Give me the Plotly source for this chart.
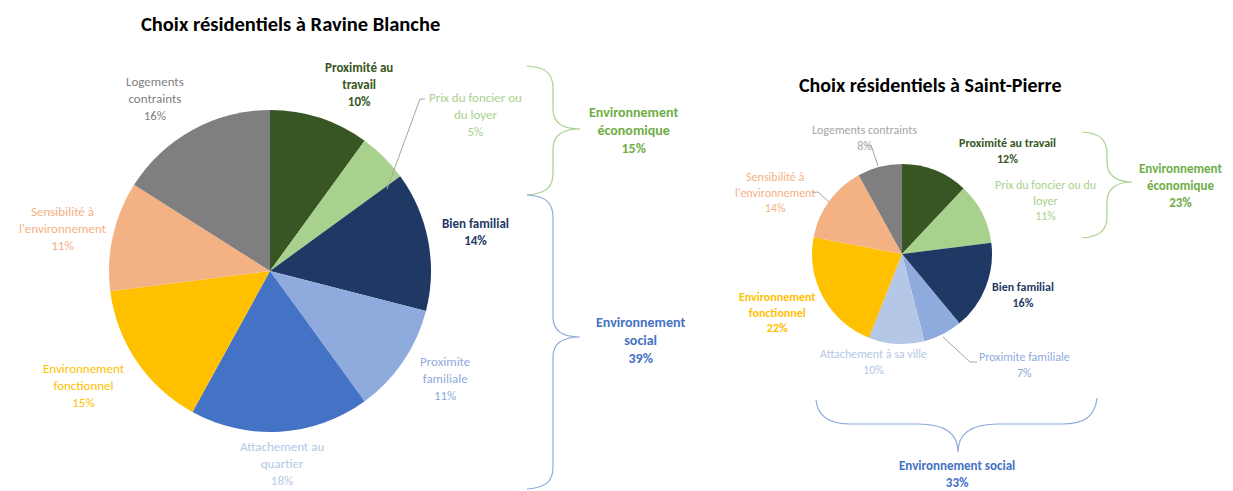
import plotly.graph_objects as go

W, H = 1233, 491
FONT = "Carlito, Lato, sans-serif"

# ---------------- data ----------------
rb_categories = ["Proximité au travail", "Prix du foncier ou du loyer", "Bien familial",
                 "Proximite familiale", "Attachement au quartier", "Environnement fonctionnel",
                 "Sensibilité à l'environnement", "Logements contraints"]
rb_values = [10, 5, 14, 11, 18, 15, 11, 16]

sp_categories = ["Proximité au travail", "Prix du foncier ou du loyer", "Bien familial",
                 "Proximite familiale", "Attachement à sa ville", "Environnement fonctionnel",
                 "Sensibilité à l'environnement", "Logements contraints"]
sp_values = [12, 11, 16, 7, 10, 22, 14, 8]

group_names = ["Environnement économique", "Environnement social"]
rb_group_values = [15, 39]
sp_group_values = [23, 33]

titles = ["Choix résidentiels à Ravine Blanche", "Choix résidentiels à Saint-Pierre"]

# ---------------- styles ----------------
rb_colors = ["#375623", "#A9D18E", "#1F3864", "#8FAADC", "#4472C4", "#FFC000", "#F4B183", "#7F7F7F"]
sp_colors = ["#375623", "#A9D18E", "#1F3864", "#8FAADC", "#B4C7E7", "#FFC000", "#F4B183", "#7F7F7F"]
rb_text_colors = ["#375623", "#A9D18E", "#1F3864", "#8FAADC", "#B4C7E7", "#FFC000", "#F4B183", "#7F7F7F"]
sp_text_colors = ["#375623", "#A9D18E", "#1F3864", "#8FAADC", "#B4C7E7", "#FFC000", "#F4B183", "#A6A6A6"]
rb_bold = [True, False, True, False, False, False, False, False]
sp_bold = [True, False, True, False, False, True, False, False]
group_colors = ["#70AD47", "#4472C4"]

# label wrapping + pixel positions (layout only)
rb_wrap = ["Proximité au<br>travail", "Prix du foncier ou<br>du loyer", "Bien familial",
           "Proximite<br>familiale", "Attachement au<br>quartier", "Environnement<br>fonctionnel",
           "Sensibilité à<br>l'environnement", "Logements<br>contraints"]
rb_pos = [(359, 85), (475, 114), (475, 232), (445, 378), (282, 463), (84, 385), (63, 229), (155, 99)]
sp_wrap = ["Proximité au travail", "Prix du foncier ou du<br>loyer", "Bien familial",
           "Proximite familiale", "Attachement à sa ville", "Environnement<br>fonctionnel",
           "Sensibilité à<br>l'environnement", "Logements contraints"]
sp_pos = [(1007, 151), (1045, 200), (1023, 295), (1024, 365), (874, 362), (777, 312), (775, 192), (864, 138)]


def px(x):
    return x / W


def py(y):
    return 1 - y / H


fig = go.Figure()

# pies (pixel boxes -> domains)
rb_box = (108, 110, 432, 432)   # left, top, right, bottom
sp_box = (812, 164, 992, 344)
for cats, vals, cols, box in [(rb_categories, rb_values, rb_colors, rb_box),
                              (sp_categories, sp_values, sp_colors, sp_box)]:
    fig.add_trace(go.Pie(
        labels=cats, values=vals, sort=False, direction="clockwise", rotation=0,
        marker=dict(colors=cols, line=dict(width=0)),
        textinfo="none", hovertemplate="%{label}: %{value}%<extra></extra>",
        domain=dict(x=[px(box[0]), px(box[2])], y=[py(box[3]), py(box[1])]),
        showlegend=False,
    ))

annotations = []


def add_text(text, x, y, color, size, bold):
    t = f"<b>{text}</b>" if bold else text
    annotations.append(dict(text=t, x=px(x), y=py(y), xref="paper", yref="paper",
                            xanchor="center", yanchor="middle", showarrow=False,
                            align="center", font=dict(family=FONT, size=size, color=color)))


# titles
add_text(titles[0], 290, 24, "#000000", 20.5, True)
add_text(titles[1], 930, 85, "#000000", 20, True)

for wrap, val, col, b, (x, y) in zip(rb_wrap, rb_values, rb_text_colors, rb_bold, rb_pos):
    add_text(f"{wrap}<br>{val}%", x, y, col, 13, b)
for wrap, val, col, b, (x, y) in zip(sp_wrap, sp_values, sp_text_colors, sp_bold, sp_pos):
    add_text(f"{wrap}<br>{val}%", x, y, col, 12, b)

# group labels
add_text(f"Environnement<br>économique<br>{rb_group_values[0]}%", 633, 130, group_colors[0], 14, True)
add_text(f"Environnement<br>social<br>{rb_group_values[1]}%", 640, 340, group_colors[1], 14, True)
add_text(f"Environnement<br>économique<br>{sp_group_values[0]}%", 1180, 185, group_colors[0], 13, True)
add_text(f"Environnement social<br>{sp_group_values[1]}%", 957, 474, group_colors[1], 13, True)

fig.update_layout(annotations=annotations)


def path(cmds):
    out = []
    for c in cmds:
        if isinstance(c, str):
            out.append(c)
        else:
            out.append(f"{px(c[0]):.5f},{py(c[1]):.5f}")
    return " ".join(out)


def vbrace(x0, y0, y1, xm, xt, yt):
    return path(["M", (x0, y0), "C", (xm - 5, y0 + 1), (xm, y0 + 10), (xm, y0 + 22),
                 "L", (xm, yt - 20), "C", (xm, yt - 8), (xm + 8, yt), (xt, yt),
                 "C", (xm + 8, yt), (xm, yt + 8), (xm, yt + 20),
                 "L", (xm, y1 - 22), "C", (xm, y1 - 10), (xm - 5, y1 - 1), (x0, y1)])


def hbrace(x0, x1, y0, ym, xt, yt):
    return path(["M", (x0, y0), "C", (x0 + 2, y0 + 16), (x0 + 12, ym), (x0 + 35, ym),
                 "L", (xt - 40, ym), "C", (xt - 15, ym), (xt, ym + 8), (xt, yt),
                 "C", (xt, ym + 8), (xt + 15, ym), (xt + 40, ym),
                 "L", (x1 - 35, ym), "C", (x1 - 12, ym), (x1 - 2, y0 + 16), (x1, y0 - 2)])


shapes = [
    dict(type="path", path=vbrace(527, 66, 195, 553, 580, 129), line=dict(color="#A9D18E", width=1.2)),
    dict(type="path", path=vbrace(527, 195, 489, 553, 580, 337), line=dict(color="#8FAADC", width=1.2)),
    dict(type="path", path=vbrace(1082, 132, 238, 1107, 1132, 182), line=dict(color="#A9D18E", width=1.2)),
    dict(type="path", path=hbrace(816, 1097, 400, 424, 958, 452), line=dict(color="#8FAADC", width=1.2)),
    # leader lines
    dict(type="path", path=path(["M", (425, 99), "L", (420, 99), "L", (387, 189)]), line=dict(color="#A6A6A6", width=1)),
    dict(type="path", path=path(["M", (866, 146), "L", (871, 145), "L", (878, 166)]), line=dict(color="#A6A6A6", width=1)),
    dict(type="path", path=path(["M", (812, 193), "L", (818, 192), "L", (829, 202)]), line=dict(color="#A6A6A6", width=1)),
    dict(type="path", path=path(["M", (943, 337), "L", (970, 362), "L", (977, 362)]), line=dict(color="#A6A6A6", width=1)),
]
for s in shapes:
    s.update(xref="paper", yref="paper")

fig.update_layout(shapes=shapes, width=W, height=H,
                  margin=dict(l=0, r=0, t=0, b=0),
                  paper_bgcolor="white", plot_bgcolor="white",
                  font=dict(family=FONT))

fig.write_html("out.html", config={"displayModeBar": False},
               post_script="document.body.style.margin='0';document.body.style.overflow='hidden';")
